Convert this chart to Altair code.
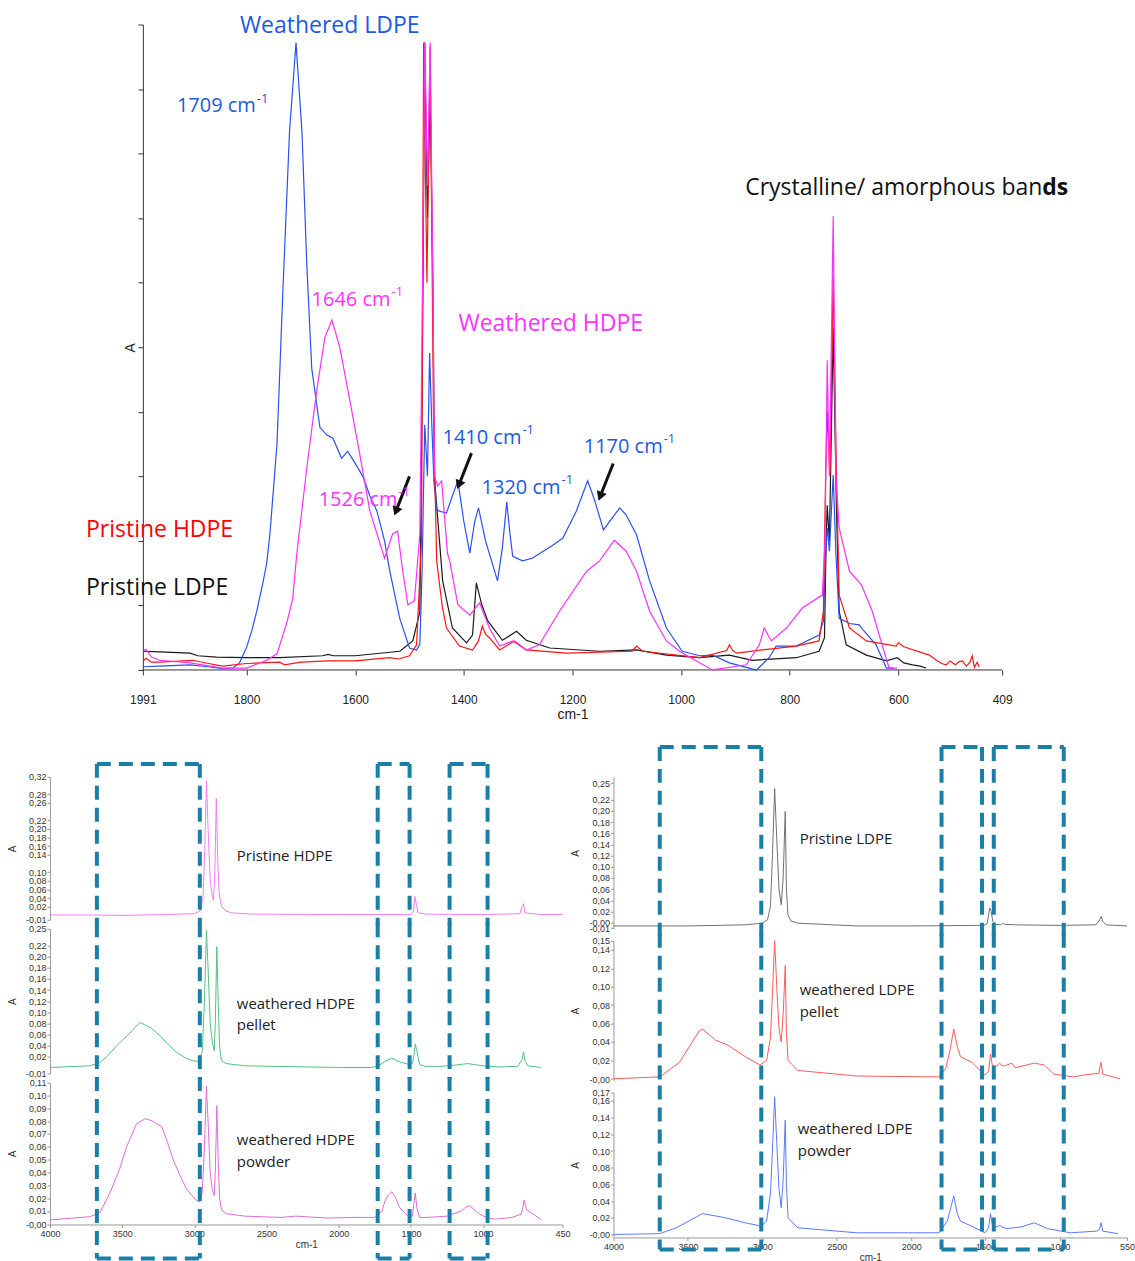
import altair as alt
import pandas as pd

# ---------------- top panel: absorbance (arbitrary units) vs wavenumber ----------------
wldpe_wn = [1991,1960,1904,1870,1844,1825,1813,1800,1790,1781,
            1770,1763,1757,1744,1733,1721,1709,1698,1689,1680,
            1671,1665,1652,1641,1625,1614,1600,1586,1573,1560,
            1546,1537,1518,1500,1487,1481,1477,1472,1467,1463,
            1459,1455,1450,1445,1432,1421,1411,1400,1389,1380,
            1373,1360,1338,1329,1321,1315,1310,1292,1274,1237,
            1218,1193,1172,1160,1143,1123,1113,1101,1082,1058,
            1027,998,966,942,911,880,861,838,825,788,
            746,738,734,731,727,720,715,709,690,672,
            663,641,622,608]
wldpe_a = [0.005,0.006,0.008,0.005,0.002,0.003,0.011,0.035,0.062,0.092,
           0.135,0.165,0.211,0.350,0.591,0.833,0.972,0.833,0.625,0.467,
           0.412,0.376,0.364,0.359,0.328,0.339,0.320,0.300,0.270,0.246,
           0.200,0.156,0.080,0.034,0.031,0.040,0.150,0.380,0.300,0.491,
           0.380,0.290,0.249,0.246,0.243,0.270,0.293,0.230,0.181,0.230,
           0.251,0.200,0.138,0.190,0.260,0.210,0.176,0.169,0.173,0.193,
           0.204,0.246,0.293,0.265,0.217,0.240,0.251,0.240,0.209,0.138,
           0.065,0.029,0.022,0.023,0.011,0.004,0.000,0.019,0.037,0.037,
           0.054,0.076,0.180,0.220,0.184,0.302,0.180,0.080,0.072,0.070,
           0.060,0.039,0.003,0.003]

whdpe_wn = [1991,1985,1975,1960,1904,1844,1800,1763,1744,1726,
            1715,1708,1689,1671,1656,1643,1629,1610,1592,1573,
            1560,1546,1531,1522,1513,1503,1491,1481,1476,1472,
            1467,1462,1457,1454,1448,1441,1430,1426,1411,1389,
            1371,1353,1334,1310,1285,1261,1224,1174,1150,1123,
            1101,1082,1058,1027,1003,972,942,880,856,847,
            834,806,777,740,735,731,727,720,715,709,
            690,668,648,630,617,602]
whdpe_a = [0.029,0.032,0.020,0.015,0.011,0.003,0.003,0.015,0.025,0.073,
           0.111,0.176,0.314,0.432,0.515,0.542,0.502,0.418,0.336,0.246,
           0.211,0.173,0.211,0.215,0.156,0.101,0.107,0.211,0.600,0.972,
           0.750,0.972,0.600,0.300,0.285,0.293,0.180,0.169,0.101,0.085,
           0.104,0.065,0.037,0.045,0.031,0.039,0.091,0.153,0.169,0.201,
           0.184,0.153,0.091,0.045,0.029,0.014,0.000,0.008,0.039,0.065,
           0.045,0.065,0.096,0.116,0.200,0.480,0.300,0.703,0.300,0.220,
           0.153,0.132,0.091,0.039,0.003,0.003]

phdpe_wn = [1991,1985,1975,1960,1899,1870,1844,1800,1739,1730,
            1700,1650,1600,1537,1520,1500,1487,1478,1474,1468,
            1462,1456,1450,1440,1432,1408,1384,1373,1366,1360,
            1353,1334,1307,1285,1211,1090,1082,1071,966,916,
            911,905,898,850,788,746,738,734,731,726,
            720,714,709,690,659,604,600,590,543,530,
            520,512,505,495,488,482,475,468,464,460,
            455,451]
phdpe_a = [0.014,0.018,0.012,0.012,0.015,0.010,0.006,0.010,0.012,0.008,
           0.012,0.014,0.014,0.019,0.017,0.022,0.039,0.200,0.972,0.600,
           0.965,0.400,0.169,0.100,0.065,0.037,0.031,0.045,0.068,0.055,
           0.050,0.031,0.045,0.031,0.026,0.029,0.037,0.029,0.019,0.030,
           0.039,0.030,0.026,0.031,0.037,0.045,0.091,0.300,0.401,0.300,
           0.611,0.300,0.116,0.065,0.045,0.037,0.042,0.036,0.023,0.015,
           0.010,0.008,0.014,0.008,0.013,0.014,0.006,0.012,0.022,0.004,
           0.012,0.005]

pldpe_wn = [1991,1960,1904,1890,1855,1800,1739,1660,1650,1640,
            1600,1518,1494,1481,1477,1472,1467,1462,1457,1454,
            1439,1421,1395,1384,1377,1367,1356,1329,1303,1285,
            1242,1150,1082,1027,966,911,869,788,746,736,
            733,731,727,720,714,709,696,659,622,602,
            590,574,560,549]
pldpe_a = [0.029,0.028,0.026,0.022,0.020,0.019,0.019,0.022,0.024,0.022,
           0.022,0.029,0.045,0.090,0.400,0.972,0.700,0.900,0.600,0.297,
           0.138,0.065,0.042,0.054,0.135,0.101,0.076,0.046,0.060,0.046,
           0.034,0.029,0.031,0.023,0.019,0.023,0.015,0.019,0.029,0.050,
           0.200,0.255,0.200,0.529,0.250,0.091,0.039,0.023,0.014,0.019,
           0.011,0.008,0.006,0.003]

top_ticks_x = [1991, 1800, 1600, 1400, 1200, 1000, 800, 600, 409]
top_axis_span = [1991, 409]

# peak labels (anchor = end of "cm", superscript follows)
peak_lbl = ["1709 cm", "1646 cm", "1526 cm", "1410 cm", "1320 cm", "1170 cm"]
peak_lbl_wn = [1783, 1535, 1522, 1294, 1222, 1034]
peak_lbl_a = [0.873, 0.573, 0.263, 0.359, 0.282, 0.345]
peak_lbl_col = ["#1e5ae0", "#ff33ff", "#ff33ff", "#1e5ae0", "#1e5ae0", "#1e5ae0"]

arrow_wn0 = [1500, 1386, 1125]
arrow_a0 = [0.300, 0.336, 0.320]
arrow_wn1 = [1524, 1408, 1148]
arrow_a1 = [0.248, 0.289, 0.271]

# ---------------- bottom panels ----------------
L1_wn = [4000,3700,3500,3200,3000,2960,2940,2928,2916,2905,
         2890,2875,2867,2858,2848,2838,2828,2812,2780,2743,
         2600,2000,1500,1482,1472,1462,1450,1400,1000,745,
         730,720,710,600,450]
L1_v = [0.001,0.001,0.000,0.002,0.004,0.010,0.040,0.150,0.311,0.200,
        0.080,0.042,0.036,0.100,0.270,0.130,0.050,0.021,0.010,0.006,
        0.003,0.002,0.002,0.010,0.044,0.025,0.006,0.003,0.002,0.004,
        0.020,0.027,0.006,0.002,0.002]

L2_wn = [4000,3723,3654,3600,3538,3450,3377,3300,3239,3180,
         3123,3060,3010,2969,2945,2930,2916,2905,2890,2875,
         2862,2855,2844,2835,2825,2812,2780,2651,2000,1780,
         1730,1680,1633,1590,1523,1490,1480,1470,1458,1440,
         1400,1300,1200,1107,1000,900,760,730,720,709,
         690,600]
L2_v = [0.001,0.004,0.010,0.022,0.040,0.062,0.082,0.072,0.058,0.042,
        0.028,0.018,0.013,0.012,0.030,0.120,0.247,0.180,0.080,0.045,
        0.031,0.080,0.218,0.120,0.040,0.013,0.008,0.004,0.001,0.001,
        0.003,0.012,0.018,0.012,0.007,0.008,0.020,0.043,0.030,0.006,
        0.003,0.003,0.005,0.008,0.004,0.002,0.003,0.015,0.029,0.012,
        0.004,0.001]

L3_wn = [4000,3723,3654,3585,3520,3469,3400,3338,3290,3262,
         3227,3190,3147,3100,3054,2985,2962,2945,2930,2916,
         2905,2890,2875,2862,2855,2844,2835,2825,2812,2780,
         2651,2400,2300,2076,1900,1751,1700,1682,1660,1631,
         1605,1578,1523,1490,1480,1470,1458,1440,1384,1250,
         1151,1120,1094,1070,1038,980,921,800,736,726,
         716,700,667,620,597]
L3_v = [0.003,0.0056,0.0088,0.024,0.042,0.060,0.078,0.082,0.080,0.078,
        0.076,0.065,0.050,0.038,0.027,0.018,0.017,0.025,0.060,0.107,
        0.080,0.040,0.026,0.022,0.040,0.092,0.050,0.020,0.011,0.008,
        0.006,0.005,0.006,0.0045,0.005,0.005,0.010,0.017,0.022,0.025,
        0.020,0.0125,0.0067,0.006,0.015,0.024,0.012,0.005,0.005,0.006,
        0.010,0.013,0.014,0.012,0.0087,0.005,0.0036,0.005,0.0075,0.012,
        0.0185,0.011,0.0087,0.005,0.003]

R1_wn = [4000,3500,3115,3000,2965,2945,2932,2917,2903,2888,
         2873,2860,2846,2838,2828,2808,2762,2365,2000,1510,
         1490,1472,1462,1452,1432,1400,1385,1375,1300,1000,
         760,735,723,712,690,550]
R1_v = [-0.006,-0.006,-0.004,-0.001,0.005,0.030,0.120,0.240,0.150,0.060,
        0.032,0.080,0.199,0.060,0.014,0.003,-0.001,-0.006,-0.006,-0.005,
        -0.002,0.026,0.020,0.002,-0.003,-0.004,-0.001,-0.003,-0.004,-0.005,
        -0.004,0.004,0.011,0.002,-0.004,-0.006]

R2_wn = [4000,3689,3556,3424,3402,3314,3225,3115,3016,2971,
         2945,2930,2917,2903,2888,2873,2860,2846,2838,2827,
         2762,2365,1813,1768,1740,1714,1690,1669,1593,1505,
         1480,1467,1455,1440,1405,1390,1372,1324,1300,1173,
         1107,1041,909,842,740,725,712,598]
R2_v = [0.000,0.002,0.018,0.052,0.054,0.042,0.036,0.024,0.015,0.020,
        0.045,0.100,0.150,0.100,0.055,0.040,0.070,0.123,0.050,0.020,
        0.009,0.003,0.002,0.011,0.030,0.054,0.035,0.024,0.018,0.004,
        0.008,0.027,0.015,0.012,0.017,0.014,0.014,0.017,0.012,0.017,
        0.015,0.005,0.002,0.004,0.006,0.018,0.005,0.000]

R3_wn = [4000,3689,3578,3402,3247,3115,3007,2971,2945,2930,
         2917,2903,2888,2873,2860,2846,2838,2827,2762,2365,
         1813,1757,1714,1690,1669,1570,1505,1480,1467,1455,
         1440,1405,1390,1361,1261,1173,1085,930,753,735,
         725,712,610]
R3_v = [0.000,0.001,0.008,0.025,0.020,0.014,0.010,0.016,0.050,0.110,
        0.165,0.110,0.055,0.032,0.065,0.137,0.060,0.020,0.008,0.002,
        0.002,0.016,0.046,0.025,0.016,0.008,0.002,0.008,0.025,0.012,
        0.008,0.011,0.009,0.007,0.009,0.014,0.007,0.002,0.004,0.006,
        0.014,0.004,0.001]

left_x_ticks = [4000, 3500, 3000, 2500, 2000, 1500, 1000, 450]
right_x_ticks = [4000, 3500, 3000, 2500, 2000, 1500, 1000, 550]
L1_yt = [0.32, 0.28, 0.26, 0.22, 0.20, 0.18, 0.16, 0.14, 0.10, 0.08, 0.06, 0.04, 0.02, -0.01]
L2_yt = [0.25, 0.22, 0.20, 0.18, 0.16, 0.14, 0.12, 0.10, 0.08, 0.06, 0.04, 0.02, -0.01]
L3_yt = [0.11, 0.10, 0.09, 0.08, 0.07, 0.06, 0.05, 0.04, 0.03, 0.02, 0.01, -0.0005]
R1_yt = [0.25, 0.22, 0.20, 0.18, 0.16, 0.14, 0.12, 0.10, 0.08, 0.06, 0.04, 0.02, -0.0003, -0.01]
R2_yt = [0.15, 0.14, 0.12, 0.10, 0.08, 0.06, 0.04, 0.02, -0.0003]
R3_yt = [0.17, 0.16, 0.14, 0.12, 0.10, 0.08, 0.06, 0.04, 0.02, -0.0003]

left_boxes = [(3675, 2962), (1730, 1509), (1232, 969)]
right_boxes = [(3689, 3007), (1796, 1524), (1445, 975)]

# ---------------- styles ----------------
ANN = "Open Sans"
AXF = "Liberation Sans"
BOX = "#1a7fa8"

# the top plot area is widened to the left so that the lower-left panels can start further left;
# the visible axes start at 1991
TOP_X = alt.Scale(domain=[409, 2162], reverse=True, nice=False, zero=False)
TOP_Y = alt.Scale(domain=[0, 1], nice=False, zero=False)
TOP_XAXIS = alt.Axis(values=top_ticks_x, format="d", title="cm-1", grid=False, domain=False,
                     labelFont=AXF, titleFont=AXF, labelFontSize=12, titleFontSize=14,
                     titleFontWeight="normal", labelColor="#222", titleColor="#222",
                     tickColor="#333", tickSize=5, labelPadding=20, titleX=523,
                     titlePadding=2, labelFlush=False, labelOverlap=False)
TOP_YAXIS = alt.Axis(values=[i / 10 for i in range(11)], labels=False, title="A", grid=False,
                     titleFont=AXF, titleFontSize=14, titleFontWeight="normal", titleColor="#222",
                     domainColor="#333", tickColor="#333", tickSize=5, titlePadding=0, offset=-93)


def tenc(ch, xf="wn", yf="a"):
    return ch.encode(x=alt.X(f"{xf}:Q", scale=TOP_X, axis=TOP_XAXIS),
                     y=alt.Y(f"{yf}:Q", scale=TOP_Y, axis=TOP_YAXIS))


def tline(wn, a, color):
    return tenc(alt.Chart(pd.DataFrame({"wn": wn, "a": a})).mark_line(color=color, strokeWidth=1.2))


def ttext(rows, **kw):
    df = pd.DataFrame(rows, columns=["wn", "a", "t", "c"])
    return tenc(alt.Chart(df).mark_text(font=ANN, baseline="middle", **kw)).encode(
        text="t:N", color=alt.Color("c:N", scale=None))


top_layers = [
    tenc(alt.Chart(pd.DataFrame({"wn": [top_axis_span[0]], "wn2": [top_axis_span[1]], "a": [0]}))
         .mark_rule(color="#333", strokeWidth=1)).encode(x2="wn2"),
    tline(pldpe_wn, pldpe_a, "#1a1a1a"),
    tline(wldpe_wn, wldpe_a, "#2b50f0"),
    tline(phdpe_wn, phdpe_a, "#ff1414"),
    tline(whdpe_wn, whdpe_a, "#ff30ff"),
]
arr_df = pd.DataFrame({"wn": arrow_wn0, "a": arrow_a0, "wn2": arrow_wn1, "a2": arrow_a1})
top_layers.append(tenc(alt.Chart(arr_df).mark_rule(color="#111", strokeWidth=3)).encode(x2="wn2", y2="a2"))
top_layers.append(tenc(alt.Chart(arr_df).mark_point(shape="triangle", filled=True, size=110,
                                                    angle=201, color="#111", opacity=1),
                       xf="wn2", yf="a2"))
top_layers.append(ttext(list(zip(peak_lbl_wn, peak_lbl_a, peak_lbl, peak_lbl_col)),
                        align="right", fontSize=20))
top_layers.append(ttext(list(zip(peak_lbl_wn, peak_lbl_a, ["-1"] * 6, peak_lbl_col)),
                        align="left", fontSize=13, dy=-8, dx=1))
top_layers.append(ttext([(1647, 0.998, "Weathered LDPE", "#1e5ae0"),
                         (1240, 0.536, "Weathered HDPE", "#ff33ff")],
                        align="center", fontSize=23))
top_layers.append(ttext([(335, 0.746, "Crystalline/ amorphous ban", "#111"),
                         (2022, 0.217, "Pris", "#ff0000"),
                         (2022, 0.127, "Pris", "#111")], align="right", fontSize=23))
top_layers.append(ttext([(335, 0.746, "ds", "#111")], align="left", fontSize=23, fontWeight="bold"))
top_layers.append(ttext([(2022, 0.217, "tine HDPE", "#ff0000"),
                         (2022, 0.127, "tine LDPE", "#111")], align="left", fontSize=23))

top = alt.layer(*top_layers).properties(width=953, height=646)

# ---------------- bottom panel builder ----------------
LBL = "(datum.value < 0 ? '-' : '') + replace(format(abs(datum.value), '.2f'), '.', ',')"


def panel(wn, v, color, xdom, xticks, ydom, yticks, h, w, show_x, texts, boxes,
          ext_top, ext_bot, top_edge, bot_edge):
    xs = alt.Scale(domain=xdom, reverse=True, nice=False, zero=False)
    ys = alt.Scale(domain=ydom, nice=False, zero=False)
    if show_x:
        xax = alt.Axis(values=xticks, format="d", title="cm-1", grid=False, labelFont=AXF,
                       titleFont=AXF, labelFontSize=9, titleFontSize=10, titleFontWeight="normal",
                       labelColor="#333", titleColor="#333", domainColor="#999", tickColor="#999",
                       tickSize=3, labelPadding=2, titlePadding=1, labelFlush=False,
                       labelOverlap=False)
    else:
        xax = None
    yax = alt.Axis(values=yticks, labelExpr=LBL, title="A", grid=False, labelFont=AXF,
                   titleFont=AXF, labelFontSize=9, titleFontSize=10, titleFontWeight="normal",
                   labelColor="#333", titleColor="#333", domainColor="#999", tickColor="#999",
                   tickSize=3, labelPadding=1, titlePadding=8, labelOverlap=False)
    X = lambda f: alt.X(f"{f}:Q", scale=xs, axis=xax)
    layers = [alt.Chart(pd.DataFrame({"wn": wn, "v": v})).mark_line(color=color, strokeWidth=1)
              .encode(x=X("wn"), y=alt.Y("v:Q", scale=ys, axis=yax))]
    tdf = pd.DataFrame(texts, columns=["wn", "v", "t"])
    layers.append(alt.Chart(tdf).mark_text(font=ANN, fontSize=15, align="left", baseline="middle",
                                           color="#222")
                  .encode(x=X("wn"), y=alt.Y("v:Q", scale=ys, axis=yax), text="t:N"))
    edges = [e for b in boxes for e in b]
    rule = dict(color=BOX, strokeWidth=4, strokeDash=[14, 8])
    layers.append(alt.Chart(pd.DataFrame({"bx": edges})).mark_rule(**rule)
                  .encode(x=X("bx"), y=alt.value(-ext_top), y2=alt.value(h + ext_bot)))
    bdf = pd.DataFrame({"b1": [b[0] for b in boxes], "b2": [b[1] for b in boxes]})
    if top_edge:
        layers.append(alt.Chart(bdf).mark_rule(**rule)
                      .encode(x=X("b1"), x2="b2", y=alt.value(-ext_top)))
    if bot_edge:
        layers.append(alt.Chart(bdf).mark_rule(**rule)
                      .encode(x=X("b1"), x2="b2", y=alt.value(h + ext_bot)))
    return alt.layer(*layers).properties(width=w, height=h)


LW, RW = 513, 514
LS, RS = 9, 12
l1 = panel(L1_wn, L1_v, "#f47cf4", [450, 4000], left_x_ticks, [-0.01, 0.32], L1_yt, 143, LW, False,
           [(2706, 0.137, "Pristine HDPE")], left_boxes, 13, LS / 2 + 1, True, False)
l2 = panel(L2_wn, L2_v, "#52c27e", [450, 4000], left_x_ticks, [-0.01, 0.25], L2_yt, 145, LW, False,
           [(2706, 0.115, "weathered HDPE"), (2706, 0.077, "pellet")], left_boxes,
           LS / 2 + 1, LS / 2 + 1, False, False)
l3 = panel(L3_wn, L3_v, "#e06ad8", [450, 4000], left_x_ticks, [-0.0005, 0.11], L3_yt, 142, LW, True,
           [(2706, 0.065, "weathered HDPE"), (2706, 0.048, "powder")], left_boxes,
           LS / 2 + 1, 34, False, True)

r1 = panel(R1_wn, R1_v, "#707070", [550, 4000], right_x_ticks, [-0.011, 0.261], R1_yt, 152, RW, False,
           [(2749, 0.150, "Pristine LDPE")], right_boxes, 30, RS / 2 + 1, True, False)
r2 = panel(R2_wn, R2_v, "#ff5a5a", [550, 4000], right_x_ticks, [-0.002, 0.15], R2_yt, 140, RW, False,
           [(2749, 0.0965, "weathered LDPE"), (2749, 0.0727, "pellet")], right_boxes,
           RS / 2 + 1, RS / 2 + 1, False, False)
r3 = panel(R3_wn, R3_v, "#5a78ff", [550, 4000], right_x_ticks, [-0.0036, 0.17], R3_yt, 145, RW, True,
           [(2762, 0.126, "weathered LDPE"), (2762, 0.100, "powder")], right_boxes,
           RS / 2 + 1, 12, False, True)

left_col = alt.vconcat(l1, l2, l3, spacing=LS, bounds="flush")
right_col = alt.vconcat(r1, r2, r3, spacing=RS, bounds="flush")
bottom = alt.hconcat(left_col, right_col, spacing=0)

chart = (alt.vconcat(top, bottom, spacing=23)
         .properties(padding={"left": 7, "top": 14, "right": 0, "bottom": 0}, background="white")
         .configure_view(stroke=None))

chart.save("out.html", embed_options={"renderer": "svg", "actions": False})
